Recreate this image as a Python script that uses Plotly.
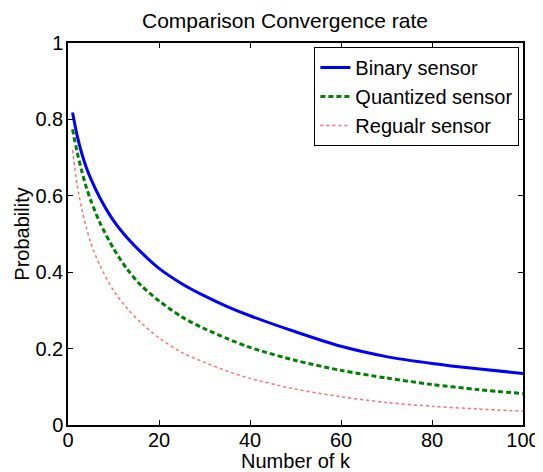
import plotly.graph_objects as go

k_values = [1, 2, 3, 4, 5, 7, 10, 13, 16, 20, 25, 30, 35, 40, 50, 60, 70, 80, 90, 100]
binary_sensor = [0.818, 0.758, 0.712, 0.675, 0.645, 0.595, 0.535, 0.490, 0.453, 0.410,
                 0.370, 0.338, 0.310, 0.286, 0.244, 0.206, 0.179, 0.161, 0.147, 0.135]
quantized_sensor = [0.774, 0.715, 0.666, 0.623, 0.588, 0.530, 0.462, 0.408, 0.366, 0.325,
                    0.283, 0.252, 0.226, 0.203, 0.169, 0.143, 0.123, 0.106, 0.093, 0.082]
regular_sensor = [0.720, 0.630, 0.568, 0.518, 0.477, 0.418, 0.352, 0.305, 0.268, 0.228,
                  0.190, 0.164, 0.141, 0.122, 0.094, 0.074, 0.059, 0.049, 0.042, 0.036]

series_names = ["Binary sensor", "Quantized sensor", "Regualr sensor"]
x_ticks = [0, 20, 40, 60, 80, 100]
y_ticks = [0, 0.2, 0.4, 0.6, 0.8, 1]

FONT = "Liberation Sans, Arial, Helvetica, sans-serif"

# page body has an 8px default margin, so the figure is 8px smaller than the window
W, H = 535, 464

fig = go.Figure()
fig.add_trace(go.Scatter(x=k_values, y=binary_sensor, mode="lines", name=series_names[0],
                         line=dict(color="#0000ff", width=3, shape="spline", smoothing=0.8)))
fig.add_trace(go.Scatter(x=k_values, y=quantized_sensor, mode="lines", name=series_names[1],
                         line=dict(color="#008000", width=3, dash="5px,3px", shape="spline", smoothing=0.8)))
fig.add_trace(go.Scatter(x=k_values, y=regular_sensor, mode="lines", name=series_names[2],
                         line=dict(color="rgb(255,110,110)", width=1.5, dash="dot", shape="spline", smoothing=0.8)))

axis_common = dict(showgrid=False, zeroline=False, showline=True, linecolor="black", linewidth=1.5,
                   mirror="ticks", ticks="inside", ticklen=5, tickcolor="black", tickwidth=1,
                   automargin=False,
                   tickfont=dict(family=FONT, size=20, color="black"))

fig.update_layout(
    width=W, height=H,
    margin=dict(l=59.5, r=19.5, t=35, b=46.5),
    paper_bgcolor="white", plot_bgcolor="white",
    title=dict(text="Comparison Convergence rate", x=277/W, xanchor="center",
               y=1 - 12.5/H, yanchor="middle", xref="container", yref="container",
               font=dict(family=FONT, size=21, color="black")),
    xaxis=dict(range=[0, 100], tickvals=x_ticks, ticklabelstandoff=-4, **axis_common,
               title=dict(text="Number of k", standoff=0, font=dict(family=FONT, size=20, color="black"))),
    yaxis=dict(range=[0, 1], tickvals=y_ticks, ticklabelstandoff=-1, **axis_common,
               title=dict(text="Probability", standoff=0, font=dict(family=FONT, size=20, color="black"))),
    legend=dict(x=0.992, y=0.9895, xanchor="right", yanchor="top", bgcolor="white",
                bordercolor="black", borderwidth=1, font=dict(family=FONT, size=20, color="black"),
                tracegroupgap=0, itemwidth=30),
    showlegend=True,
)

fig.write_html("out.html")
